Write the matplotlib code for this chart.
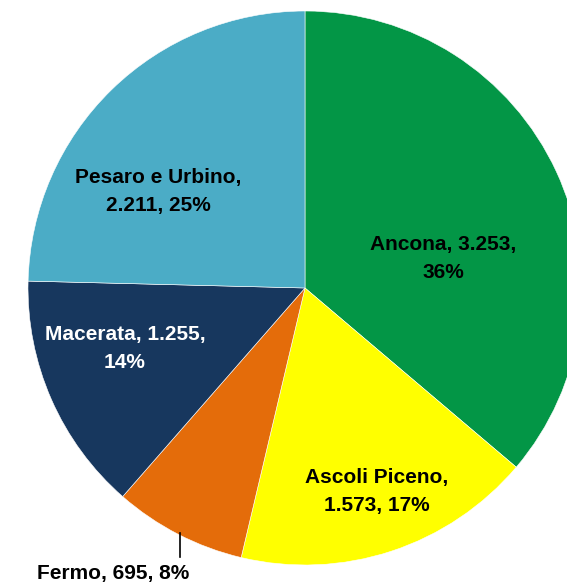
import matplotlib
matplotlib.use("Agg")
import matplotlib.pyplot as plt
import numpy as np

plt.rcParams["font.family"] = ["Liberation Sans Narrow", "Liberation Sans", "DejaVu Sans"]

provinces = ["Ancona", "Ascoli Piceno", "Fermo", "Macerata", "Pesaro e Urbino"]
values = [3253, 1573, 695, 1255, 2211]
value_labels = ["3.253", "1.573", "695", "1.255", "2.211"]
pct_labels = [36, 17, 8, 14, 25]
colors = ["#039646", "#FFFF00", "#E46C0A", "#17375E", "#4BACC6"]
text_colors = ["black", "black", "black", "white", "black"]


def main():
    W, H = 567, 583
    cx, cy, r = 305, 288, 277
    fig = plt.figure(figsize=(W / 100, H / 100), dpi=100)
    ax = fig.add_axes([0, 0, 1, 1])

    ax.pie(values, colors=colors, startangle=90, counterclock=False,
           radius=1, wedgeprops=dict(edgecolor="white", linewidth=0.4))
    ax.set_aspect("auto")
    ax.set_xlim(-cx / r, (W - cx) / r)
    ax.set_ylim(-(H - cy) / r, cy / r)
    ax.axis("off")

    # label positions in radius units (layout only)
    label_pos = [(0.50, 0.105), (0.26, -0.735), None, (-0.65, -0.22), (-0.53, 0.35)]
    texts = [
        f"{provinces[0]}, {value_labels[0]},\n{pct_labels[0]}%",
        f"{provinces[1]},\n{value_labels[1]}, {pct_labels[1]}%",
        f"{provinces[2]}, {value_labels[2]}, {pct_labels[2]}%",
        f"{provinces[3]}, {value_labels[3]},\n{pct_labels[3]}%",
        f"{provinces[4]},\n{value_labels[4]}, {pct_labels[4]}%",
    ]
    fs = 15
    for i, pos in enumerate(label_pos):
        if pos is None:
            continue
        ax.text(pos[0], pos[1], texts[i], ha="center", va="center",
                fontsize=fs, fontweight="bold", color=text_colors[i],
                linespacing=1.6)

    # Fermo label outside with leader line
    lx = (180 - cx) / r
    ax.plot([lx, lx], [-(533 - cy) / r, -(557 - cy) / r], color="black", lw=1.2)
    ax.text((113 - cx) / r, -(573 - cy) / r, texts[2], ha="center", va="center",
            fontsize=fs, fontweight="bold", color="black")

    fig.savefig("out.png", dpi=100)
    plt.close(fig)


if __name__ == "__main__":
    main()
